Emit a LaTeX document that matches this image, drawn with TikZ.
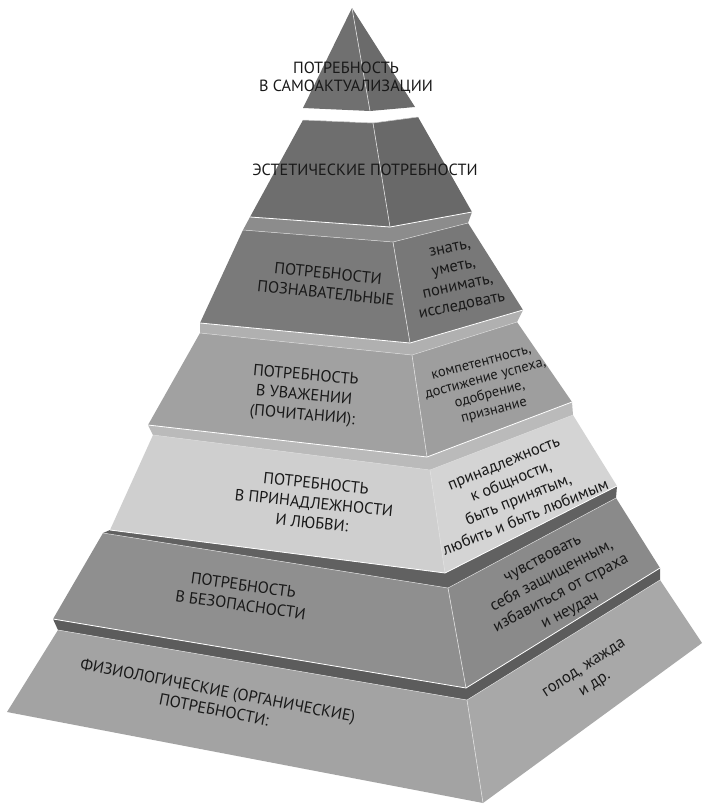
\documentclass[tikz,border=0pt]{standalone}
\usepackage{fontspec}
\setmainfont{PT Sans}
\begin{document}
\begin{tikzpicture}[x=1pt,y=-1pt,
  ridge/.style={draw=white!75!gray, line width=0.6pt},
  rim/.style={draw=white!70!gray, line width=0.5pt},
  cut/.style={draw=white, line width=0.8pt},
  lbl/.style={align=center, inner sep=0pt, text=black!90, font=\fontsize{16.2}{20}\selectfont},
  sml/.style={align=center, inner sep=0pt, text=black!90, font=\fontsize{16.4}{19.5}\selectfont},
  tiny/.style={align=center, inner sep=0pt, text=black!90, font=\fontsize{14.4}{16.5}\selectfont}]
\useasboundingbox (0,0) rectangle (702,806);
% ---------- coordinates ----------
\coordinate (A) at (352,8);
\coordinate (B1L) at (303,108); \coordinate (B1F) at (370,111); \coordinate (B1R) at (415,107);
\coordinate (T2L) at (303,120); \coordinate (T2F) at (373,123); \coordinate (T2R) at (418,117);
\coordinate (B2L) at (250,217); \coordinate (B2F) at (390,227); \coordinate (B2R) at (472,212);
\coordinate (T3L) at (243,230); \coordinate (T3F) at (393,242); \coordinate (T3R) at (468,223);
\coordinate (B3L) at (200,323); \coordinate (B3F) at (410,343); \coordinate (B3R) at (523,310);
\coordinate (T4L) at (200,333); \coordinate (T4F) at (412,355); \coordinate (T4R) at (517,322);
\coordinate (B4L) at (148,425); \coordinate (B4F) at (427,457); \coordinate (B4R) at (572,402);
\coordinate (T5L) at (153,435); \coordinate (T5F) at (430,470); \coordinate (T5R) at (573,415);
\coordinate (B5L) at (110,530); \coordinate (B5F) at (445,573); \coordinate (B5R) at (617,486);
\coordinate (T6L) at (103,533); \coordinate (T6F) at (448,588); \coordinate (T6R) at (616,498);
\coordinate (B6L) at (53,619);  \coordinate (B6F) at (466,688); \coordinate (B6R) at (660,568);
\coordinate (T7L) at (58,630);  \coordinate (T7F) at (467,700); \coordinate (T7R) at (660,580);
\coordinate (B7L) at (7,712);   \coordinate (B7F) at (483,803); \coordinate (B7R) at (702,643);
% ---------- level 7 ----------
\fill[black!64] (T7L) -- (T7F) -- (T7R) -- (B6R) -- (B6F) -- (B6L) -- cycle;
\fill[black!36] (T7L) -- (T7F) -- (B7F) -- (B7L) -- cycle;
\fill[black!34] (T7F) -- (T7R) -- (B7R) -- (B7F) -- cycle;
\draw[ridge] (T7F) -- (B7F);
\draw[rim] (T7L) -- (T7F) -- (T7R);
% ---------- level 6 ----------
\fill[black!62] (T6L) -- (T6F) -- (T6R) -- (B5R) -- (B5F) -- (B5L) -- cycle;
\fill[black!44] (T6L) -- (T6F) -- (B6F) -- (B6L) -- cycle;
\fill[black!46] (T6F) -- (T6R) -- (B6R) -- (B6F) -- cycle;
\draw[ridge] (T6F) -- (B6F);
\draw[rim] (T6L) -- (T6F) -- (T6R);
\draw[cut] (B6L) -- (B6F) -- (B6R);
% ---------- level 5 ----------
\fill[black!27] (T5L) -- (T5F) -- (T5R) -- (B4R) -- (B4F) -- (B4L) -- cycle;
\fill[black!19] (T5L) -- (T5F) -- (B5F) -- (B5L) -- cycle;
\fill[black!17] (T5F) -- (T5R) -- (B5R) -- (B5F) -- cycle;
\draw[ridge] (T5F) -- (B5F);
\draw[rim] (T5L) -- (T5F) -- (T5R);
\draw[cut] (B5L) -- (B5F) -- (B5R);
% ---------- level 4 ----------
\fill[black!31] (T4L) -- (T4F) -- (T4R) -- (B3R) -- (B3F) -- (B3L) -- cycle;
\fill[black!37] (T4L) -- (T4F) -- (B4F) -- (B4L) -- cycle;
\fill[black!38] (T4F) -- (T4R) -- (B4R) -- (B4F) -- cycle;
\draw[ridge] (T4F) -- (B4F);
\draw[rim] (T4L) -- (T4F) -- (T4R);
\draw[cut] (B4L) -- (B4F) -- (B4R);
% ---------- level 3 ----------
\fill[black!45] (T3L) -- (T3F) -- (T3R) -- (B2R) -- (B2F) -- (B2L) -- cycle;
\fill[black!52] (T3L) -- (T3F) -- (B3F) -- (B3L) -- cycle;
\fill[black!53] (T3F) -- (T3R) -- (B3R) -- (B3F) -- cycle;
\draw[ridge] (T3F) -- (B3F);
\draw[rim] (T3L) -- (T3F) -- (T3R);
\draw[cut] (B3L) -- (B3F) -- (B3R);
% ---------- level 2 ----------
\fill[black!50] (T2L) -- (T2F) -- (T2R) -- ([yshift=-4pt]T2R) -- ([yshift=-4pt]T2F) -- ([yshift=-4pt]T2L) -- cycle;
\fill[black!57] (T2L) -- (T2F) -- (B2F) -- (B2L) -- cycle;
\fill[black!59] (T2F) -- (T2R) -- (B2R) -- (B2F) -- cycle;
\draw[ridge] (T2F) -- (B2F);
\draw[rim] (T2L) -- (T2F) -- (T2R);
\draw[cut] (B2L) -- (B2F) -- (B2R);
% ---------- level 1 ----------
\fill[black!56] (A) -- (B1F) -- (B1L) -- cycle;
\fill[black!58] (A) -- (B1R) -- (B1F) -- cycle;
\draw[ridge] (A) -- (B1F);
% ---------- texts ----------
\node[lbl, font=\fontsize{16.2}{18}\selectfont] (t1) at (346,78) {ПОТРЕБНОСТЬ\\В САМОАКТУАЛИЗАЦИИ};
\node[lbl] (t2) at (365,170) {ЭСТЕТИЧЕСКИЕ ПОТРЕБНОСТИ};
\node[lbl, rotate=-6] (t3) at (327,283) {ПОТРЕБНОСТИ\\ПОЗНАВАТЕЛЬНЫЕ};
\node[sml, rotate=12] (t3r) at (456,278) {знать,\\уметь,\\понимать,\\исследовать};
\node[lbl, rotate=-5] (t4) at (304,396) {ПОТРЕБНОСТЬ\\В УВАЖЕНИИ\\(ПОЧИТАНИИ):};
\node[tiny, rotate=15] (t4r) at (488,388) {компетентность,\\достижение успеха,\\одобрение,\\признание};
\node[lbl, rotate=-6] (t5) at (314,503) {ПОТРЕБНОСТЬ\\В ПРИНАДЛЕЖНОСТИ\\И ЛЮБВИ:};
\node[sml, rotate=22] (t5r) at (515,491) {принадлежность\\к общности,\\быть принятым,\\любить и быть любимым};
\node[lbl, rotate=-8] (t6) at (242,595) {ПОТРЕБНОСТЬ\\В БЕЗОПАСНОСТИ};
\node[sml, rotate=28] (t6r) at (557,586) {чувствовать\\себя защищенным,\\избавиться от страха\\и неудач};
\node[lbl, rotate=-11] (t7) at (216,700) {ФИЗИОЛОГИЧЕСКИЕ (ОРГАНИЧЕСКИЕ)\\ПОТРЕБНОСТИ:};
\node[sml, rotate=33] (t7r) at (590,677) {голод, жажда\\и др.};
\end{tikzpicture}
\end{document}
